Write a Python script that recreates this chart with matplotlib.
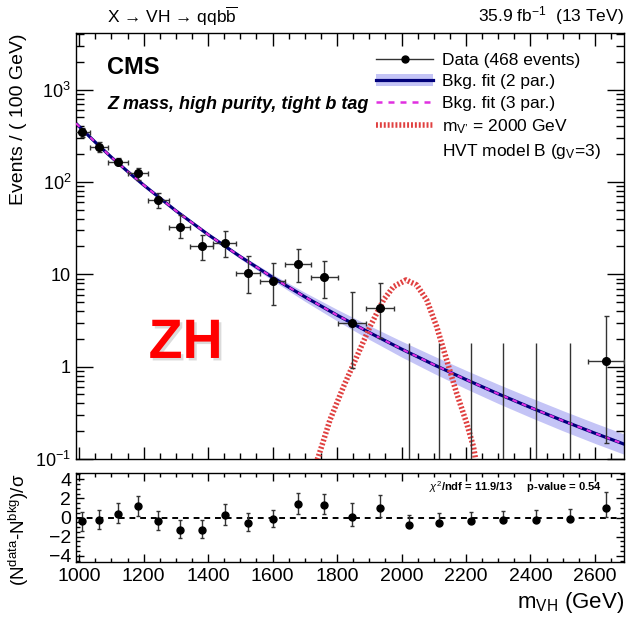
import numpy as np
import matplotlib
matplotlib.use("Agg")
import matplotlib.pyplot as plt
import matplotlib.patheffects as pe
from matplotlib.lines import Line2D
from matplotlib.patches import Patch
from matplotlib.ticker import FixedLocator, FixedFormatter, MultipleLocator, NullFormatter

plt.rcParams["font.family"] = ["Liberation Sans", "DejaVu Sans"]
plt.rcParams["mathtext.fontset"] = "custom"
plt.rcParams["mathtext.rm"] = "Liberation Sans"
plt.rcParams["mathtext.it"] = "Liberation Sans:italic"
plt.rcParams["mathtext.bf"] = "Liberation Sans:bold"

# dijet bins (GeV) and events / 100 GeV
bin_edges = [983, 1034, 1089, 1150, 1213, 1278, 1345, 1415, 1487, 1562, 1639,
             1719, 1802, 1889, 1978, 2070, 2165, 2264, 2365, 2470, 2578, 2690]
events = [349, 240, 166, 124, 63.7, 32.7, 20.2, 21.7, 10.3, 8.46, 12.9,
          9.42, 2.99, 4.35, 0, 0, 0, 0, 0, 0, 1.14]
events_up = [380, 272, 180, 142, 76.4, 43.8, 26.6, 29.4, 15.9, 13.4, 18.7,
             14.0, 6.38, 8.11, 1.82, 1.82, 1.82, 1.82, 1.82, 1.82, 3.54]
events_dn = [308, 212, 152, 105, 51.8, 24.5, 14.3, 15.5, 6.23, 4.65, 8.32,
             5.50, 0.96, 2.03, 0, 0, 0, 0, 0, 0, 0.148]

# background fit (2 par.) and its uncertainty band (in decades)
fit_m = [990, 1050, 1100, 1150, 1200, 1300, 1400, 1500, 1600, 1700, 1800,
         1900, 2000, 2100, 2200, 2300, 2400, 2500, 2600, 2690]
fit_val = [431, 269, 185, 130, 92.5, 48.7, 26.9, 15.5, 9.25, 5.70, 3.61,
           2.34, 1.55, 1.05, 0.724, 0.507, 0.361, 0.260, 0.190, 0.145]
band_dex = [0.004, 0.005, 0.006, 0.007, 0.008, 0.011, 0.016, 0.024, 0.033, 0.048, 0.062,
            0.075, 0.086, 0.094, 0.100, 0.104, 0.107, 0.109, 0.110, 0.110]

# signal m_V' = 2000 GeV
sig_m = [1725, 1742, 1778, 1820, 1861, 1902, 1944, 1975, 2014, 2047, 2078,
         2109, 2140, 2171, 2202, 2223, 2230, 2236]
sig_val = [0.075, 0.106, 0.265, 0.608, 1.28, 2.71, 5.27, 7.34, 8.68, 7.66, 5.27,
           2.71, 1.18, 0.515, 0.244, 0.136, 0.098, 0.07]

# pulls (N_data - N_bkg)/sigma
pulls = [-0.36, -0.21, 0.42, 1.22, -0.36, -1.27, -1.27, 0.24, -0.57, -0.18, 1.40,
         1.29, 0.07, 0.95, -0.74, -0.53, -0.36, -0.25, -0.21, -0.15, 0.95]
pull_up = [0.95, 1.0, 1.05, 1.05, 1.0, 1.0, 1.0, 1.15, 1.0, 1.0, 1.2,
           1.2, 1.5, 1.4, 1.0, 1.0, 0.95, 0.95, 1.0, 1.0, 1.75]
pull_dn = [1.0, 0.95, 1.0, 1.05, 0.9, 0.9, 0.9, 1.0, 0.85, 0.8, 1.05,
           0.95, 1.0, 0.9, 0, 0, 0, 0, 0, 0, 0.9]

edges = np.array(bin_edges, dtype=float)
centers = 0.5 * (edges[:-1] + edges[1:])
halfw = 0.5 * (edges[1:] - edges[:-1])
events = np.array(events)
filled = events > 0

fig = plt.figure(figsize=(6.29, 6.17), dpi=100)
ax = fig.add_axes([0.1208, 0.2561, 0.8712, 0.6904])
axp = fig.add_axes([0.1208, 0.0891, 0.8712, 0.1442])

xmin, xmax = 990, 2690

# --- upper panel
fit_val = np.array(fit_val)
band = np.array(band_dex)
ax.fill_between(fit_m, fit_val * 10 ** (-band), fit_val * 10 ** band,
                color="#c4c4f6", lw=0, zorder=1)
ax.plot(fit_m, fit_val, color="#00007a", lw=2.3, zorder=2)
ax.plot(fit_m, fit_val, color="#e030e0", lw=1.5, dashes=(2.4, 2.4), zorder=3)
ax.plot(sig_m, sig_val, color="#e04040", lw=4, dashes=(0.35, 0.35), zorder=4)

ev_up = np.array(events_up)
ev_dn = np.array(events_dn)
ax.errorbar(centers[filled], events[filled],
            xerr=halfw[filled],
            yerr=[events[filled] - ev_dn[filled], ev_up[filled] - events[filled]],
            fmt="o", color="black", ecolor="#333333", ms=5.5, elinewidth=1,
            capsize=1.8, capthick=1, zorder=6, clip_on=True)
ax.vlines(centers[~filled], 1e-3, ev_up[~filled], color="#333333", lw=1, zorder=5)

ax.set_yscale("log")
ax.set_xlim(xmin, xmax)
ax.set_ylim(0.1, 4100)
ax.yaxis.set_major_locator(FixedLocator([0.1, 1, 10, 100, 1000]))
ax.yaxis.set_major_formatter(FixedFormatter([r"$10^{-1}$", "1", "10", r"$10^{2}$", r"$10^{3}$"]))
ax.yaxis.set_minor_locator(matplotlib.ticker.LogLocator(base=10, subs=np.arange(2, 10)))
ax.yaxis.set_minor_formatter(NullFormatter())
ax.xaxis.set_major_locator(MultipleLocator(200))
ax.xaxis.set_minor_locator(MultipleLocator(50))
ax.tick_params(axis="both", which="both", direction="in", top=True, right=True)
ax.tick_params(axis="y", which="major", length=12, width=1, labelsize=13)
ax.tick_params(axis="y", which="minor", length=6, width=1)
ax.tick_params(axis="x", which="major", length=9, width=1, labelbottom=False)
ax.tick_params(axis="x", which="minor", length=4.5, width=1)
ax.set_ylabel("Events / ( 100 GeV)", fontsize=14, loc="top", labelpad=6)

ax.text(0.057, 0.92, "CMS", transform=ax.transAxes, fontsize=17, fontweight="bold",
        va="center", ha="left")
ax.text(0.057, 0.831, "Z mass, high purity, tight b tag", transform=ax.transAxes,
        fontsize=13, fontweight="bold", style="italic", va="center", ha="left")
ax.text(0.2, 0.27, "ZH", transform=ax.transAxes, fontsize=40, fontweight="bold",
        color="#ff0000", ha="center", va="center",
        path_effects=[pe.SimplePatchShadow(offset=(1.8, -1.8), shadow_rgbFace="#999999", alpha=0.35),
                      pe.Normal()])

ax.text(0.057, 1.04, r"X → VH → qqb$\overline{\mathrm{b}}$",
        transform=ax.transAxes, fontsize=12.5, ha="left", va="center")
ax.text(1.0, 1.04, r"35.9 fb$^{-1}$  (13 TeV)", transform=ax.transAxes,
        fontsize=12.5, ha="right", va="center")

handles = [
    Line2D([], [], color="#333333", marker="o", mfc="black", mec="black", ms=5, lw=1),
    (Patch(facecolor="#c4c4f6", edgecolor="none"), Line2D([], [], color="#00007a", lw=2.3)),
    Line2D([], [], color="#e030e0", lw=1.8, dashes=(2.4, 2.4)),
    Line2D([], [], color="#e04040", lw=4, dashes=(0.35, 0.35)),
    Line2D([], [], color="none"),
]
labels = ["Data (468 events)", "Bkg. fit (2 par.)", "Bkg. fit (3 par.)",
          "m$_{\\mathrm{V\u2019}}$ = 2000 GeV", r"HVT model B (g$_{\mathrm{V}}$=3)"]
ax.legend(handles, labels, loc="upper left", bbox_to_anchor=(0.535, 0.97),
          frameon=False, fontsize=12.5, handlelength=3.3, handletextpad=0.5,
          labelspacing=0.36, borderaxespad=0)

# --- pull panel
pulls = np.array(pulls)
axp.axhline(0, color="black", lw=1.4, dashes=(3, 2.5), zorder=1)
axp.errorbar(centers, pulls, yerr=[pull_dn, pull_up], fmt="o", color="black",
             ecolor="#333333", ms=5, elinewidth=1, capsize=1.6, capthick=1, zorder=3)
axp.set_xlim(xmin, xmax)
axp.set_ylim(-4.65, 4.65)
axp.yaxis.set_major_locator(FixedLocator([-4, -2, 0, 2, 4]))
axp.yaxis.set_minor_locator(MultipleLocator(0.5))
axp.xaxis.set_major_locator(MultipleLocator(200))
axp.xaxis.set_minor_locator(MultipleLocator(50))
axp.tick_params(axis="both", which="both", direction="in", top=True, right=True)
axp.tick_params(axis="both", which="major", length=6, width=1, labelsize=14)
axp.tick_params(axis="both", which="minor", length=3, width=1)
axp.tick_params(axis="x", which="major", pad=4)
axp.set_ylabel(r"(N$^{\mathrm{data}}$-N$^{\mathrm{bkg}}$)/σ", fontsize=13.5)
axp.yaxis.set_label_coords(-0.083, 0.36)
axp.set_xlabel(r"m$_{\mathrm{VH}}$ (GeV)", fontsize=16, loc="right", labelpad=4)
axp.text(0.96, 0.84, r"$\chi^{2}$/ndf = 11.9/13     p-value = 0.54", transform=axp.transAxes,
         fontsize=8, fontweight="bold", ha="right", va="center")

for a in (ax, axp):
    for s in a.spines.values():
        s.set_linewidth(1.0)

fig.savefig("out.png", dpi=100)
